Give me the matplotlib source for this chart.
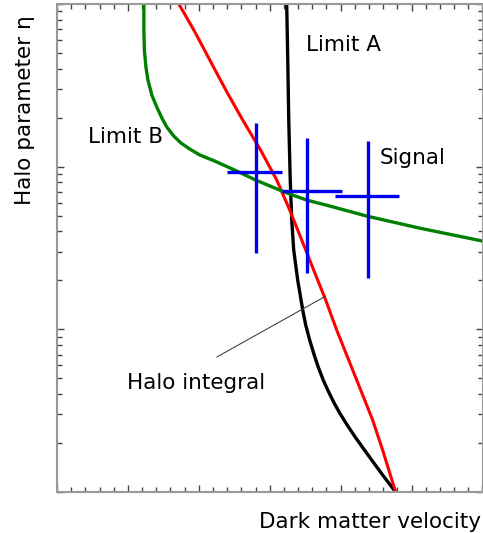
import matplotlib
matplotlib.use("Agg")
import matplotlib.pyplot as plt
import numpy as np

# Curves (x: dark matter velocity, y: halo parameter eta, log scale)
limitA_x = [3.239, 3.254, 3.268, 3.289, 3.310, 3.338, 3.394, 3.465, 3.507, 3.563, 3.627,
            3.683, 3.754, 3.817, 3.901, 3.986, 4.092, 4.204, 4.317, 4.437, 4.592, 4.775]
limitA_y = [10.0, 4.52, 1.93, 0.827, 0.470, 0.307, 0.201, 0.1314, 0.1063, 0.0859, 0.0695,
            0.0587, 0.0488, 0.0424, 0.0357, 0.0306, 0.0258, 0.0218, 0.0186, 0.01573, 0.01272, 0.010]

halo_x = [1.718, 1.930, 2.155, 2.380, 2.620, 2.873, 3.099, 3.282, 3.451, 3.620, 3.789,
          3.944, 4.113, 4.282, 4.451, 4.592, 4.775]
halo_y = [10.0, 6.91, 4.52, 2.96, 1.93, 1.26, 0.827, 0.541, 0.354, 0.2314, 0.1514,
          0.0990, 0.0648, 0.0424, 0.0277, 0.0181, 0.010]

limitB_x = [1.225, 1.225, 1.232, 1.254, 1.282, 1.338, 1.408, 1.479, 1.549, 1.648, 1.746,
            1.873, 2.014, 2.225, 2.535, 2.803, 3.141, 3.282, 3.521, 3.845, 4.366, 5.113, 6.0]
limitB_y = [10.0, 6.91, 5.21, 4.09, 3.41, 2.75, 2.32, 1.99, 1.75, 1.54, 1.40,
            1.283, 1.18, 1.082, 0.940, 0.827, 0.718, 0.679, 0.623, 0.573, 0.497, 0.419, 0.349]

# Signal points with asymmetric errors
sig_x = [2.803, 3.521, 4.380]
sig_y = [0.927, 0.708, 0.659]
sig_xlo = [2.394, 3.169, 3.915]
sig_xhi = [3.169, 4.014, 4.817]
sig_ylo = [0.294, 0.222, 0.206]
sig_yhi = [1.853, 1.50, 1.435]

W, H = 483, 533
fig = plt.figure(figsize=(W / 100, H / 100), dpi=100)
ax = fig.add_axes([57 / W, 1 - 492 / H, (482.5 - 57) / W, (492 - 4) / H])

kw = dict(solid_joinstyle='round', solid_capstyle='butt')
ax.plot(limitA_x, limitA_y, color='black', lw=2.4, **kw)
ax.plot(halo_x, halo_y, color='#ff0000', lw=2.2, **kw)
ax.plot(limitB_x, limitB_y, color='#008000', lw=2.4, **kw)

sx = np.array(sig_x); sy = np.array(sig_y)
xerr = [sx - np.array(sig_xlo), np.array(sig_xhi) - sx]
yerr = [sy - np.array(sig_ylo), np.array(sig_yhi) - sy]
ax.errorbar(sx, sy, xerr=xerr, yerr=yerr, fmt='none', ecolor='#0000ee', elinewidth=2.4, capsize=0)

ax.set_yscale('log')
ax.set_xlim(0, 6)
ax.set_ylim(0.01, 10)
ax.set_xticks(np.arange(0, 6.01, 1.0))
ax.set_xticks(np.arange(0, 6.01, 0.2), minor=True)
ax.tick_params(which='both', direction='in', labelleft=False, labelbottom=False,
               top=True, right=True, color='#444444')
ax.tick_params(which='major', length=5, width=1.0)
ax.tick_params(which='minor', length=3.5, width=1.0)
for s in ax.spines.values():
    s.set_color('#999999')
    s.set_linewidth(1.5)

fs = 15.5
ax.text(3.507, 5.14, 'Limit A', fontsize=fs, va='baseline', ha='left')
ax.text(0.437, 1.40, 'Limit B', fontsize=fs, va='baseline', ha='left')
ax.text(4.549, 1.04, 'Signal', fontsize=fs, va='baseline', ha='left')
ax.text(0.986, 0.0430, 'Halo integral', fontsize=fs, va='baseline', ha='left')
ax.annotate('', xy=(3.789, 0.160), xytext=(2.254, 0.0676),
            arrowprops=dict(arrowstyle='-', color='#444444', lw=0.8, shrinkA=0, shrinkB=0))

fig.text(481 / W, 1 - 528 / H, 'Dark matter velocity', fontsize=fs, ha='right', va='baseline')
fig.text(25 / W, 1 - 15 / H, 'Halo parameter η', fontsize=fs, rotation=90, ha='center', va='top')

fig.savefig('out.png', dpi=100)
